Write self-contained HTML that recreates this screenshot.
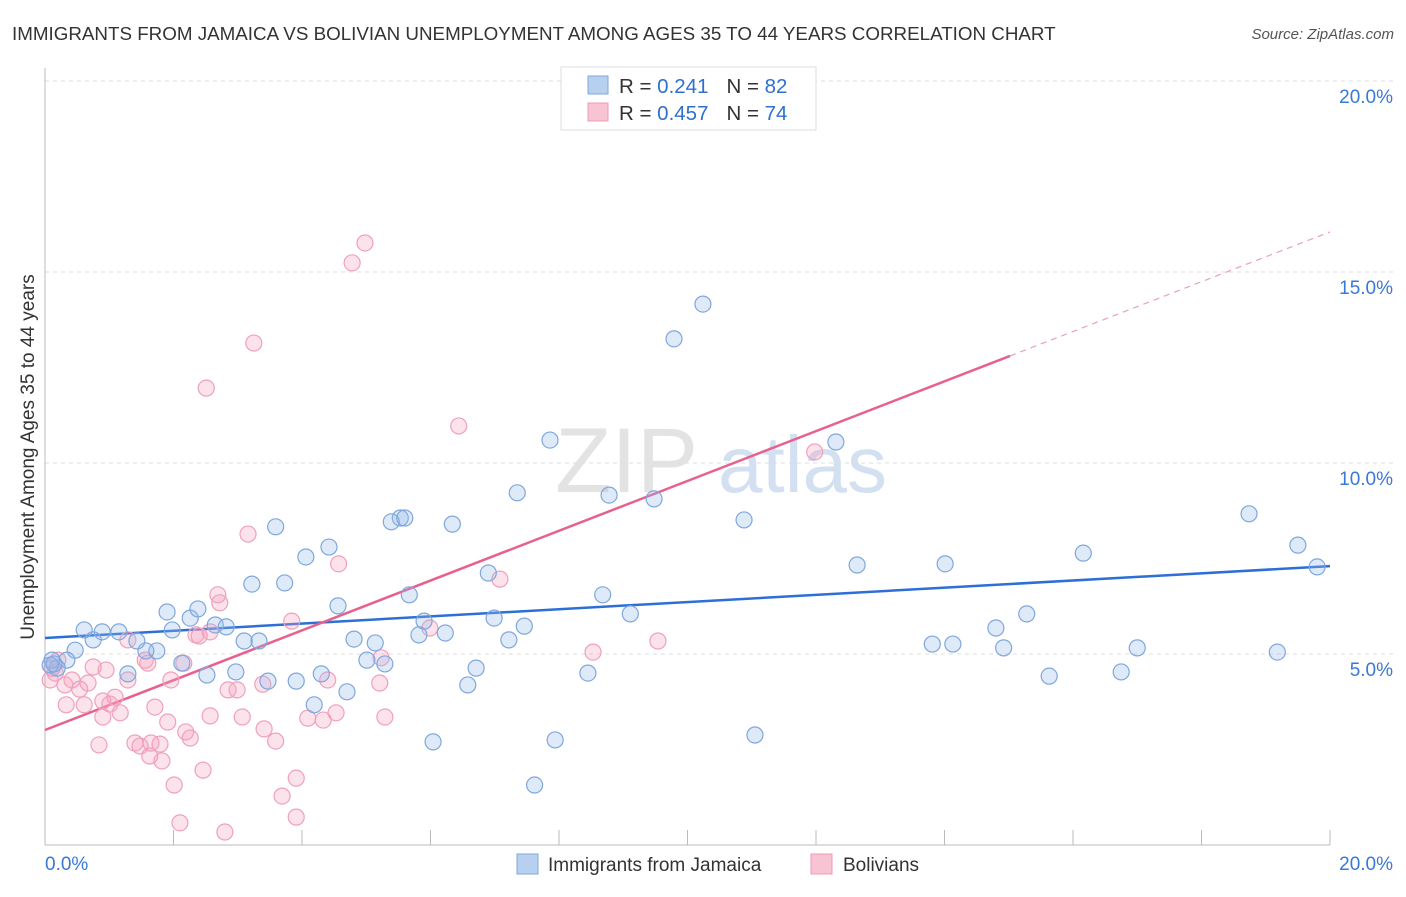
<!DOCTYPE html>
<html><head><meta charset="utf-8"><style>
body{margin:0;background:#fff;font-family:"Liberation Sans",sans-serif;}
svg text{font-family:"Liberation Sans",sans-serif;}
</style></head><body>
<svg id="chart" width="1406" height="892" xmlns="http://www.w3.org/2000/svg">
<text x="12" y="40" font-size="18.8" fill="#333">IMMIGRANTS FROM JAMAICA VS BOLIVIAN UNEMPLOYMENT AMONG AGES 35 TO 44 YEARS CORRELATION CHART</text>
<text x="1394" y="39" font-size="15" fill="#555" text-anchor="end" font-style="italic">Source: ZipAtlas.com</text>
<text transform="translate(34,457) rotate(-90)" font-size="19" fill="#333" text-anchor="middle">Unemployment Among Ages 35 to 44 years</text>
<g>
<text x="555" y="492" font-size="92" fill="#ddd" font-family="Liberation Serif" opacity="0.8">ZIP</text>
<text x="718" y="492" font-size="80" fill="#c9d9ee" opacity="0.8">atlas</text>
</g>
<g id="grid"></g><g id="axes"></g><g id="trends"></g><g id="points"></g>
<g>
<rect x="561" y="67" width="255" height="63" fill="#fff" stroke="#ddd"/>
<rect x="588" y="76" width="20" height="18" fill="#b8d0f0" stroke="#7fa7dd"/>
<rect x="588" y="103" width="20" height="18" fill="#f8c4d4" stroke="#f09ab4"/>
<text x="619" y="93" font-size="20.5" fill="#333">R = <tspan fill="#2f6fd0">0.241</tspan><tspan dx="18">N = </tspan><tspan fill="#2f6fd0">82</tspan></text>
<text x="619" y="120" font-size="20.5" fill="#333">R = <tspan fill="#2f6fd0">0.457</tspan><tspan dx="18">N = </tspan><tspan fill="#2f6fd0">74</tspan></text>
</g>
<g>
<rect x="517" y="854" width="21" height="20" fill="#b8d0f0" stroke="#7fa7dd"/>
<text x="548" y="871" font-size="19" fill="#333">Immigrants from Jamaica</text>
<rect x="811" y="854" width="21" height="20" fill="#f8c4d4" stroke="#f09ab4"/>
<text x="843" y="871" font-size="19" fill="#333">Bolivians</text>
</g>
</svg>
<script>
const blueX=[10.24,9.79,7.86,12.31,7.35,8.78,9.48,10.88,18.74,19.50,19.80,16.16,14.01,12.64,15.28,14.80,14.92,13.81,14.13,15.63,16.75,17.0,19.18,8.68,9.11,8.45,7.94,7.62,11.05,6.04,6.58,6.71,6.99,7.46,7.22,6.90,6.23,5.90,5.82,5.67,6.34,5.53,5.39,4.81,5.14,5.29,5.01,4.70,4.30,4.19,3.91,3.47,2.97,2.52,2.13,1.74,1.57,1.29,1.43,1.15,0.89,0.75,0.61,0.47,0.34,0.19,0.11,0.08,0.14,1.98,2.26,2.38,1.90,2.65,2.82,3.33,3.10,3.22,3.73,3.59,4.06,4.42,4.56,5.60];
const blueY=[14.16,13.25,10.60,10.55,9.22,9.16,9.06,8.51,8.67,7.85,7.28,7.64,7.36,7.33,6.05,5.68,5.16,5.26,5.26,4.42,4.53,5.16,5.05,6.55,6.05,4.50,2.75,1.57,2.88,2.70,4.19,4.63,5.94,5.73,5.37,7.12,5.55,5.86,5.50,6.55,8.40,8.56,8.46,5.39,5.29,4.74,4.84,4.01,4.48,3.67,4.29,4.29,4.53,4.45,4.76,5.08,5.08,4.48,5.34,5.58,5.58,5.37,5.63,5.10,4.84,4.63,4.84,4.71,4.74,5.63,5.94,6.18,6.10,5.76,5.71,5.34,5.34,6.83,6.86,8.33,7.54,7.80,6.26,8.56];
const pinkX=[4.98,4.78,3.25,2.51,6.44,11.98,3.16,4.57,7.08,2.69,2.72,3.84,2.35,2.40,2.16,1.56,1.29,0.95,0.75,0.42,0.31,0.16,0.11,0.20,0.08,0.54,0.67,0.33,0.61,0.90,1.09,1.01,1.17,0.90,1.29,1.96,1.60,1.71,1.91,2.19,2.26,1.40,1.48,1.65,1.79,1.82,1.63,0.84,2.46,2.01,2.10,2.80,2.85,2.99,3.07,3.39,3.41,2.57,3.59,3.69,3.91,3.91,4.09,4.33,4.53,4.40,5.23,5.21,5.29,5.99,8.53,9.54,2.57];
const pinkY=[15.76,15.24,13.14,11.96,10.97,10.29,8.14,7.36,6.96,6.55,6.34,5.86,5.50,5.47,4.76,4.84,5.37,4.58,4.66,4.32,4.19,4.50,4.63,4.84,4.32,4.08,4.24,3.67,3.67,3.77,3.87,3.69,3.46,3.35,4.32,4.32,4.76,3.61,3.22,2.96,2.80,2.67,2.59,2.67,2.64,2.20,2.33,2.62,1.96,1.57,0.58,0.34,4.06,4.06,3.35,4.21,3.04,3.38,2.72,1.28,1.75,0.73,3.32,3.27,3.46,4.32,4.90,4.24,3.35,5.68,5.05,5.34,5.58];
const yTicks=[5,10,15,20];
const yTickLabels=["5.0%","10.0%","15.0%","20.0%"];
const xTicks=[0,2,4,6,8,10,12,14,16,18,20];
const blueTrend=[5.42,7.30];
const pinkTrend=[3.01,16.05];
const pinkSolidEnd=15.02;

const NS="http://www.w3.org/2000/svg";
const X=v=>45+v*64.25, Y=v=>845-v*38.2;
function mk(tag,attrs,parent){const e=document.createElementNS(NS,tag);for(const k in attrs)e.setAttribute(k,attrs[k]);document.getElementById(parent).appendChild(e);return e;}
yTicks.forEach((t,i)=>{
  const l=mk('line',{x1:45,x2:1393,y1:Y(t),y2:Y(t),stroke:'#ddd','stroke-dasharray':'4,4'},'grid');
  
  
  const tx=mk('text',{x:1393,y:Y(t)+22,'font-size':19,fill:'#3a78d6','text-anchor':'end'},'grid');
  tx.textContent=yTickLabels[i];
  
  
});
const ax=mk('line',{x1:45,x2:1330,y1:845,y2:845,stroke:'#bbb'},'axes');


const ay=mk('line',{x1:45,x2:45,y1:68,y2:845,stroke:'#bbb'},'axes');


xTicks.forEach(t=>{
  const l=mk('line',{x1:X(t),x2:X(t),y1:830,y2:845,stroke:'#bbb'},'axes');
  
  
});
const xl0=mk('text',{x:45,y:870,'font-size':19,fill:'#3a78d6'},'axes');xl0.textContent='0.0%';


const xl1=mk('text',{x:1393,y:870,'font-size':19,fill:'#3a78d6','text-anchor':'end'},'axes');xl1.textContent='20.0%';



const bt=mk('line',{x1:X(0),y1:Y(blueTrend[0]),x2:X(20),y2:Y(blueTrend[1]),stroke:'#2c6fd6','stroke-width':2.5},'trends');


const pAt=x=>pinkTrend[0]+(pinkTrend[1]-pinkTrend[0])*x/20;
const pt=mk('line',{x1:X(0),y1:Y(pinkTrend[0]),x2:X(pinkSolidEnd),y2:Y(pAt(pinkSolidEnd)),stroke:'#e8608e','stroke-width':2.5},'trends');


const pd=mk('line',{x1:X(pinkSolidEnd),y1:Y(pAt(pinkSolidEnd)),x2:X(20),y2:Y(pinkTrend[1]),stroke:'#e8a0b8','stroke-width':1.2,'stroke-dasharray':'6,5'},'trends');



pinkX.forEach((x,i)=>{
  const c=mk('circle',{cx:X(x),cy:Y(pinkY[i]),r:8,fill:'rgba(244,160,188,0.3)',stroke:'#f0a0bb','stroke-width':1.2},'points');
  
  
});
blueX.forEach((x,i)=>{
  const c=mk('circle',{cx:X(x),cy:Y(blueY[i]),r:8,fill:'rgba(150,185,235,0.3)',stroke:'#7fa7dd','stroke-width':1.2},'points');
  
  
});
</script>
</body></html>
